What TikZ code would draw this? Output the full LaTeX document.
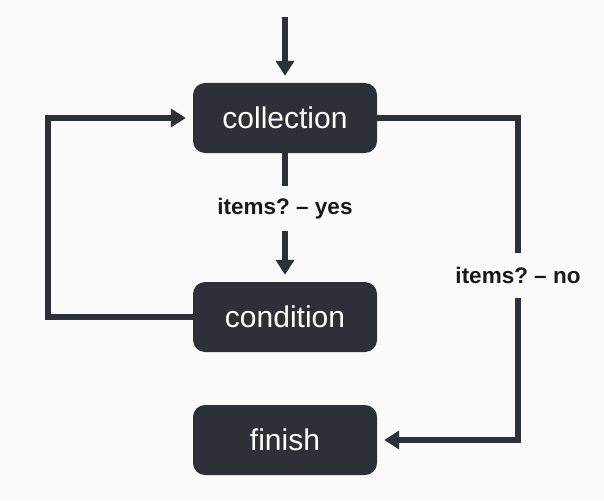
\documentclass[tikz,border=0pt]{standalone}
\usepackage{fontspec}
\setmainfont{Liberation Sans}
\frenchspacing
\usetikzlibrary{arrows.meta}
\definecolor{boxdark}{HTML}{2D3036}
\definecolor{bgpaper}{HTML}{FAFAFA}
\begin{document}
\begin{tikzpicture}[x=1pt,y=-1pt,
stepbox/.style={fill=boxdark,rounded corners=12pt,minimum width=184pt,minimum height=70pt,inner sep=0pt,text=white,font=\fontsize{30}{36}\selectfont},
flow/.style={line width=6pt,draw=boxdark,-{Triangle[length=15pt,width=18pt]},shorten >=7pt},
lbl/.style={fill=bgpaper,inner sep=0pt,minimum height=45pt,text=black!90,font=\bfseries\fontsize{22.5}{27}\selectfont}]
\fill[bgpaper] (0,0) rectangle (604,500);
\node[stepbox] (collection) at (285,118) {collection};
\node[stepbox] (condition) at (285,317) {condition};
\node[stepbox] (finish) at (285,440) {finish};
\coordinate (start) at (285,17);
\coordinate (lcorner) at (48,118);
\coordinate (rtop) at (518,118);
\coordinate (rbot) at (518,440);
\draw[flow] (start) -- (collection);
\draw[flow] (collection) -- node[lbl,pos=0.43]{items? -- yes} (condition);
\draw[flow] (condition.west) -| (lcorner) -- (collection.west);
\draw[flow] (collection.east) -- (rtop) -- node[lbl,pos=0.49]{items? -- no} (rbot) -- (finish.east);
\end{tikzpicture}
\end{document}
